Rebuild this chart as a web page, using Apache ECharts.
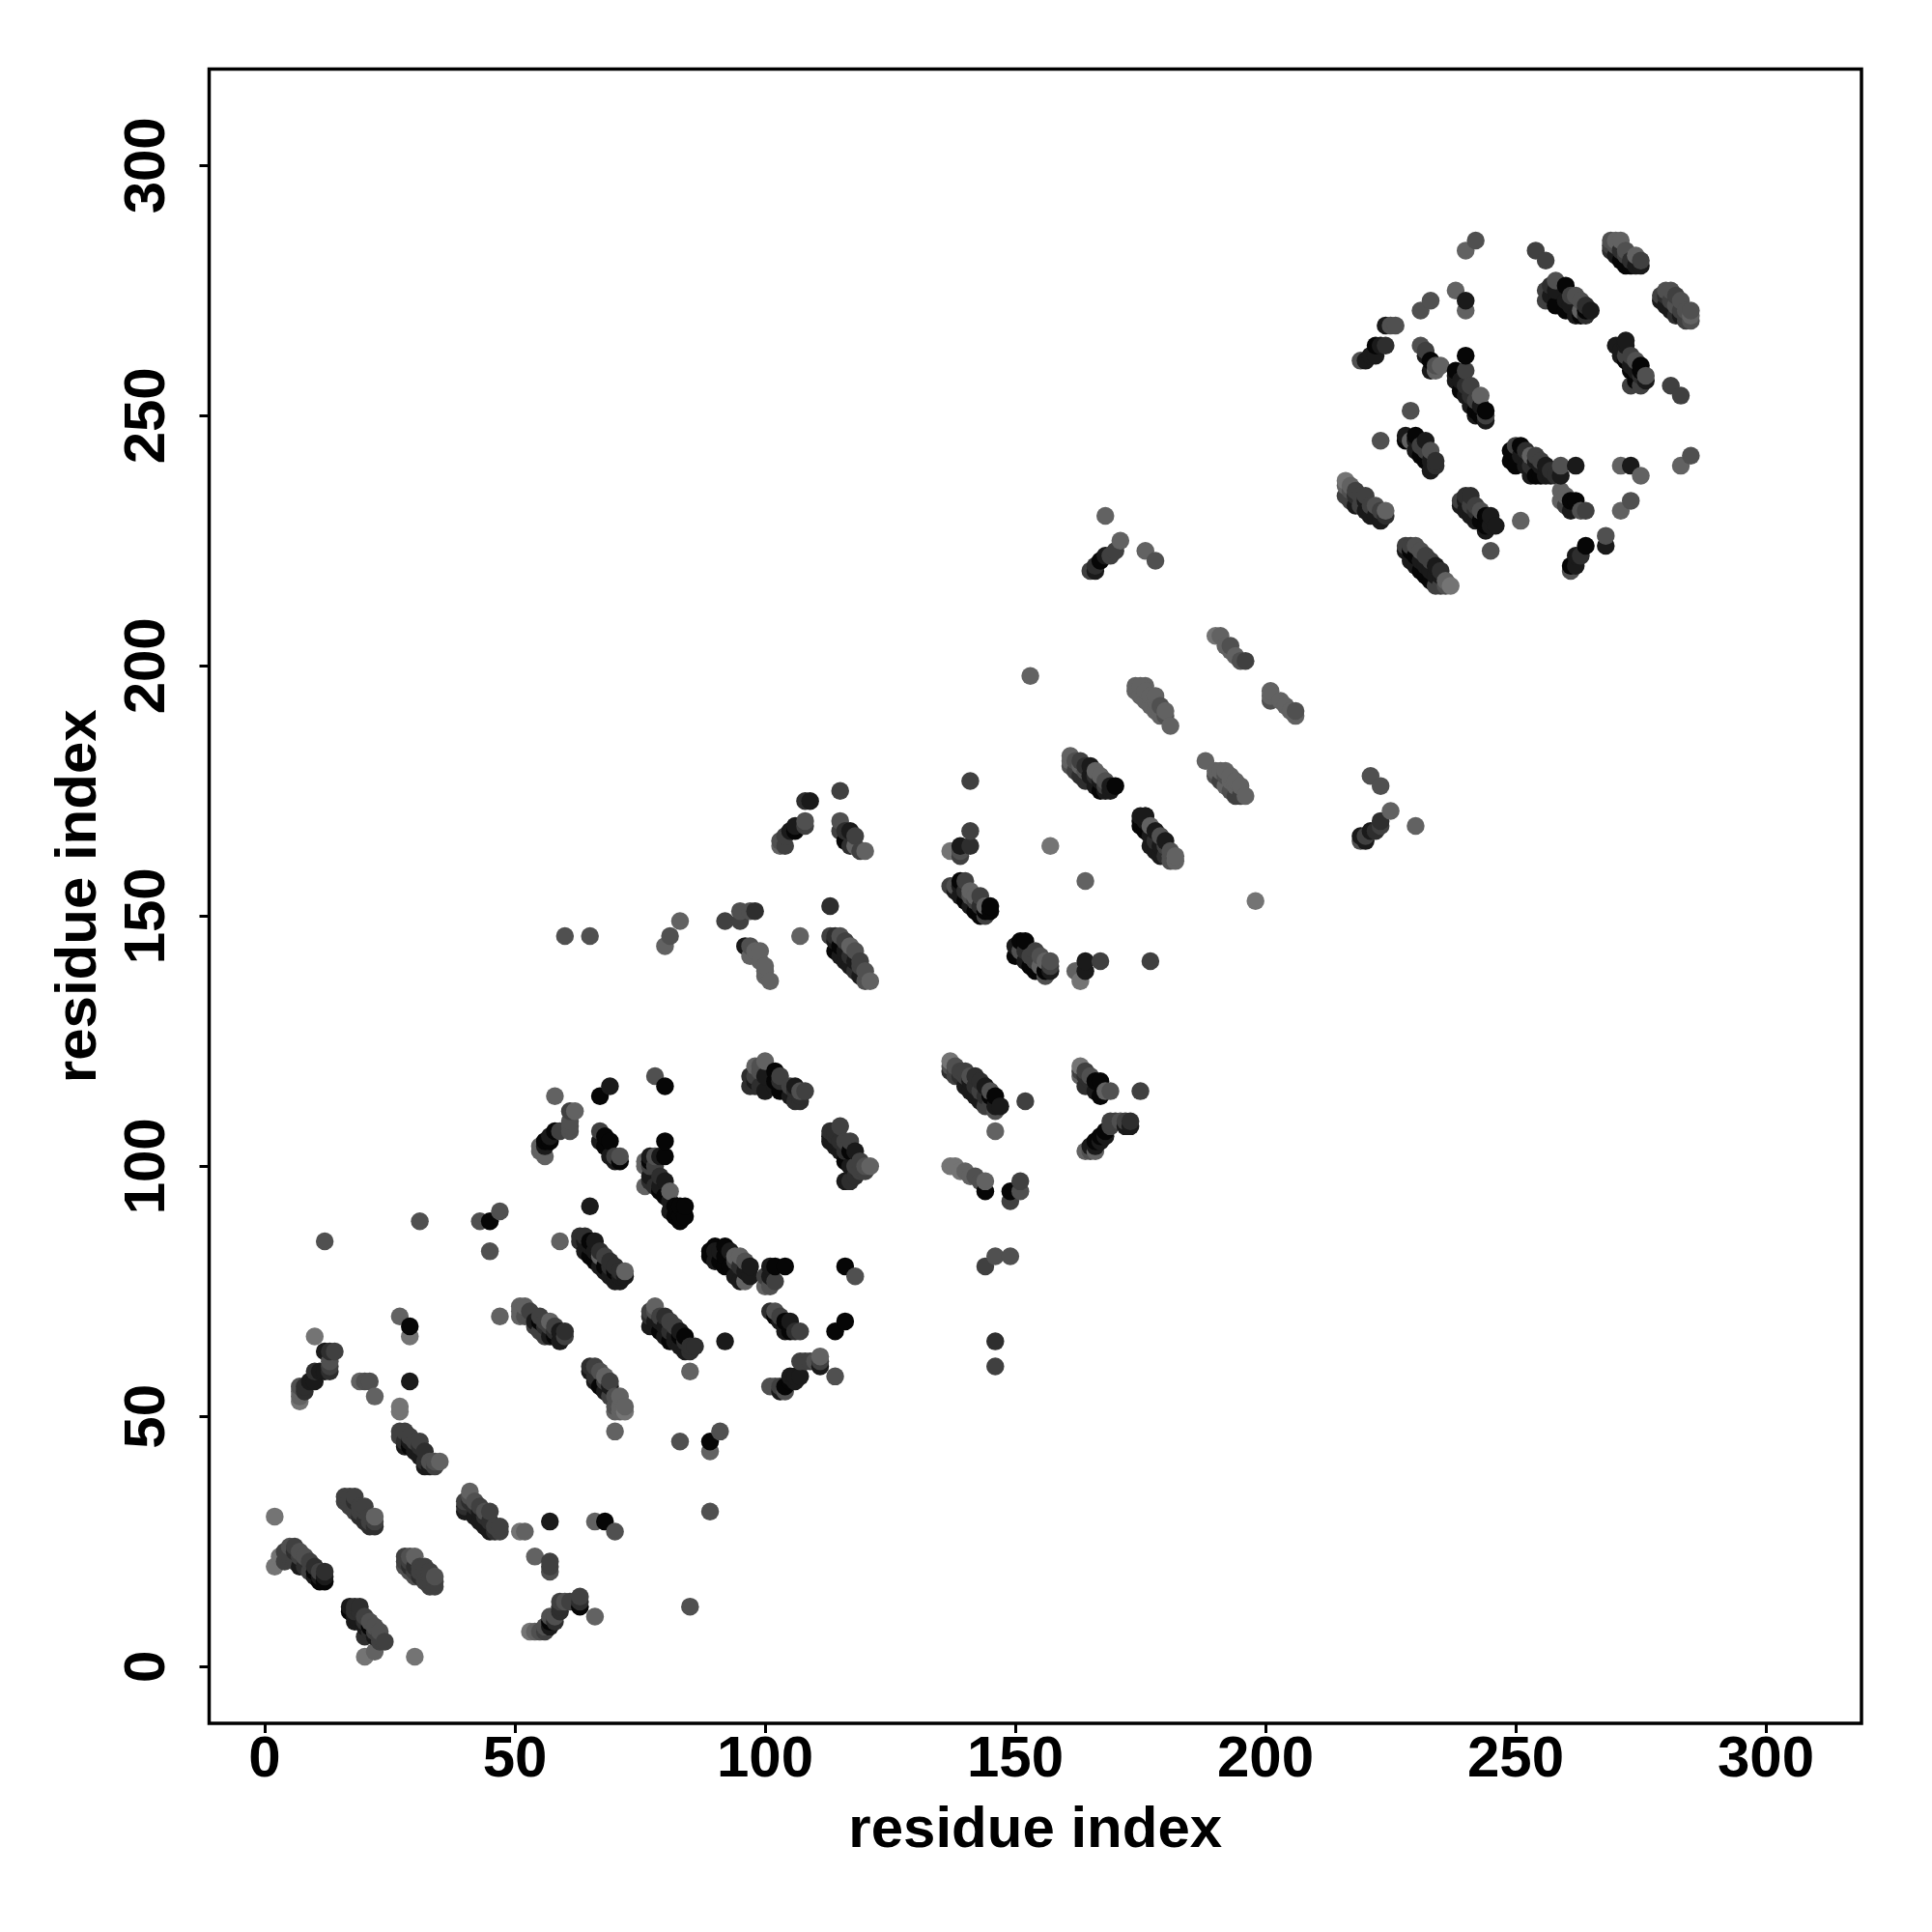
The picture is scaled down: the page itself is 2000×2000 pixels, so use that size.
<!DOCTYPE html>
<html><head><meta charset="utf-8">
<script src="https://cdn.jsdelivr.net/npm/echarts@6/dist/echarts.min.js"></script>
<style>html,body{margin:0;padding:0;background:#fff}#c{width:2000px;height:2000px}</style>
</head><body><div id="c"></div>
<script>
// each contact: [residue x, residue y, shade 0 (darkest) .. 6 (lightest)]
const tickValues=[0,50,100,150,200,250,300];
const shadeGreys=[6,26,46,64,80,98,116];
const axisName='residue index';
const block1=[[2,20,6],[2,30,6],[3,22,6],[4,21,3],[4,23,3],[5,22,3],[5,24,4],[6,21,3],[6,23,2],[6,24,3],[7,20,1],[7,22,3],[7,23,4],[7,53,6],[7,54,5],[7,55,5],[7,56,4],[8,20,2],[8,22,4],[8,55,2],[8,56,2],[9,19,3],[9,21,3],[9,57,1],[10,18,1],[10,19,0],[10,20,2],[10,57,1],[10,59,2],[10,66,6],[11,17,0],[11,18,1],[11,19,3],[11,59,1],[12,17,0],[12,18,1],[12,19,2],[12,59,1],[12,63,1],[12,85,4],[13,59,2],[13,60,3],[13,61,4],[13,63,2],[14,63,3]];
const block2=[[16,33,3],[16,34,3],[17,11,0],[17,12,1],[17,32,3],[17,33,3],[17,34,3],[18,9,1],[18,10,1],[18,11,2],[18,12,2],[18,31,3],[18,32,3],[18,33,2],[18,34,3],[19,11,2],[19,12,2],[19,30,2],[19,31,3],[19,32,3],[19,57,5],[20,2,6],[20,6,2],[20,8,1],[20,9,2],[20,10,3],[20,29,2],[20,31,3],[20,32,3],[20,57,4],[21,7,2],[21,8,0],[21,9,4],[21,28,2],[21,29,3],[21,30,3],[21,57,4],[22,3,5],[22,6,1],[22,7,3],[22,8,4],[22,28,2],[22,29,3],[22,30,5],[22,54,5],[23,5,3],[23,6,3],[23,7,4],[24,5,3]];
const block3=[[27,46,3],[27,47,3],[27,51,6],[27,52,6],[27,70,5],[28,20,4],[28,21,3],[28,22,3],[28,44,1],[28,45,2],[28,47,3],[29,19,4],[29,20,2],[29,21,3],[29,22,4],[29,44,0],[29,45,1],[29,46,3],[29,57,1],[29,66,6],[29,68,0],[30,2,6],[30,18,4],[30,19,3],[30,20,2],[30,22,5],[30,43,1],[30,45,3],[31,18,2],[31,19,3],[31,20,3],[31,42,1],[31,44,2],[31,45,3],[31,89,4],[32,17,3],[32,19,3],[32,20,3],[32,40,1],[32,41,2],[32,43,2],[33,16,3],[33,17,3],[33,18,3],[33,19,3],[33,40,1],[33,41,4],[34,16,3],[34,17,3],[34,18,4],[34,40,3],[34,41,4],[35,41,5]];
const block4=[[40,31,1],[40,32,2],[40,33,3],[41,33,2],[41,34,4],[41,35,5],[42,30,1],[42,32,2],[42,33,4],[43,29,1],[43,31,1],[43,32,3],[43,89,4],[44,28,1],[44,30,2],[44,31,4],[45,27,1],[45,29,2],[45,31,3],[45,83,4],[45,89,0],[46,27,2],[46,28,3],[47,27,3],[47,28,3],[47,70,5],[47,91,4],[51,27,6],[51,70,5],[51,71,5],[51,72,5],[52,27,5],[52,70,4],[52,72,5],[53,7,6],[53,70,4],[53,71,3],[54,7,5],[54,22,5],[54,68,3],[54,69,1],[55,7,4],[55,67,3],[55,69,0],[55,70,3],[55,103,5],[55,104,5],[56,7,3],[56,8,4],[56,66,3],[56,68,2],[56,69,3],[56,102,5],[56,104,1],[56,105,0],[57,8,1],[57,9,0],[57,10,4],[57,19,4],[57,20,3],[57,21,3],[57,29,1],[57,66,1],[57,68,3],[57,69,5],[57,105,0],[57,106,1],[58,9,2],[58,10,4],[58,66,0],[58,67,2],[58,68,3],[58,107,0],[58,114,5],[59,11,2],[59,12,2],[59,13,3],[59,65,1],[59,67,1],[59,85,5],[59,107,3],[60,13,4],[60,66,3],[60,67,2],[60,146,4],[61,13,3],[61,107,4],[61,108,4],[61,109,4],[61,111,3],[62,111,5],[63,12,0],[63,13,2],[63,14,3],[63,85,2],[63,86,2]];
const block5=[[64,83,1],[64,85,1],[64,86,2],[65,59,1],[65,60,2],[65,82,0],[65,84,1],[65,85,0],[65,92,1],[65,146,4],[66,10,5],[66,29,5],[66,57,1],[66,58,2],[66,60,3],[66,81,0],[66,83,1],[66,85,1],[67,56,0],[67,59,4],[67,80,1],[67,82,5],[67,83,2],[67,105,1],[67,107,3],[67,114,0],[68,29,0],[68,55,1],[68,57,3],[68,58,5],[68,79,1],[68,80,0],[68,82,3],[68,104,0],[68,106,0],[69,54,3],[69,56,1],[69,57,3],[69,78,1],[69,80,2],[69,81,2],[69,102,1],[69,105,0],[69,116,1],[70,27,4],[70,47,5],[70,51,5],[70,52,4],[70,54,4],[70,77,1],[70,79,0],[70,80,2],[70,101,1],[70,102,3],[71,51,5],[71,52,5],[71,54,5],[71,77,1],[71,78,1],[71,79,2],[71,101,0],[71,102,4],[72,51,6],[72,52,5],[72,78,1],[72,79,5]];
const block6=[[76,96,5],[76,100,5],[76,101,5],[77,68,1],[77,70,2],[77,71,3],[77,97,2],[77,98,1],[77,100,3],[77,101,0],[77,102,1],[78,69,1],[78,71,4],[78,72,5],[78,96,2],[78,100,3],[78,102,4],[78,118,4],[79,67,0],[79,69,1],[79,70,3],[79,95,0],[79,96,1],[79,98,2],[79,102,1],[80,66,1],[80,68,1],[80,70,2],[80,94,0],[80,97,1],[80,102,0],[80,105,0],[80,116,0],[81,65,0],[81,67,2],[81,69,3],[81,91,1],[81,93,1],[81,95,5],[82,65,1],[82,66,1],[82,68,3],[82,90,0],[82,92,0],[83,64,1],[83,66,0],[83,67,1],[83,45,4],[83,89,0],[83,90,0],[83,92,0],[84,63,1],[84,65,2],[84,66,0],[84,90,0],[84,92,0],[85,12,4],[85,59,5],[85,63,2],[85,64,2],[86,64,2]];
const block7=[[89,31,4],[89,43,5],[89,45,0],[89,82,0],[89,83,0],[90,81,1],[90,84,0],[90,83,1],[91,47,4],[91,81,0],[91,83,1],[92,65,1],[92,80,0],[92,82,0],[92,84,0],[93,80,0],[93,83,1],[94,78,1],[94,81,3],[94,82,5],[95,77,1],[95,80,2],[95,82,5],[96,77,5],[96,79,1],[96,81,4],[97,78,1],[97,80,1],[97,116,2],[97,118,2],[98,116,2],[98,117,1],[98,118,3],[98,120,5],[99,116,2],[99,119,4],[99,120,4],[100,76,5],[100,78,3],[100,115,1],[100,118,1],[100,121,5],[101,56,4],[101,71,2],[101,76,4],[101,78,1],[101,80,1],[102,56,4],[102,70,0],[102,71,4],[102,77,3],[102,80,0],[102,116,1],[102,117,0],[102,119,0],[103,55,1],[103,56,3],[103,69,1],[103,70,3],[103,115,0],[103,117,2],[103,118,3],[103,164,5],[103,165,4],[104,55,4],[104,56,0],[104,67,1],[104,69,0],[104,80,0],[104,164,3],[104,166,3],[105,57,0],[105,58,1],[105,67,0],[105,69,1],[105,114,1],[105,116,3],[105,167,1],[106,57,1],[106,58,1],[106,67,2],[106,113,2],[106,115,2],[106,116,1],[106,167,0],[106,168,1],[107,58,1],[107,61,3],[107,67,3],[107,113,2],[107,114,2],[107,115,4],[107,146,5],[108,61,3],[108,115,3],[108,168,3],[108,169,4],[108,173,2],[109,61,3],[109,173,1],[110,61,4],[111,60,1],[111,61,3],[111,62,5]];
const block8=[[113,105,1],[113,106,1],[113,107,2],[113,146,3],[113,152,2],[114,58,4],[114,67,0],[114,104,1],[114,106,2],[114,107,2],[114,143,0],[114,145,1],[114,146,2],[115,103,1],[115,105,2],[115,108,3],[115,142,1],[115,144,0],[115,146,4],[115,167,3],[115,169,4],[115,175,3],[116,69,0],[116,80,0],[116,97,1],[116,101,0],[116,103,2],[116,105,3],[116,141,1],[116,143,1],[116,145,3],[116,165,0],[116,167,2],[117,97,2],[117,100,1],[117,103,0],[117,105,3],[117,140,1],[117,142,2],[117,144,5],[117,164,2],[117,167,1],[118,78,4],[118,98,2],[118,100,3],[118,103,1],[118,139,2],[118,141,1],[118,143,4],[118,164,5],[118,166,3],[119,99,3],[119,101,3],[119,138,1],[119,140,3],[119,141,3],[119,163,3],[120,99,3],[120,100,4],[120,137,4],[120,139,4],[120,163,5],[121,100,5],[121,137,5]];
const block9=[[80,144,5],[81,146,4],[83,149,5],[92,149,3],[95,149,3],[95,151,4],[96,144,1],[97,142,5],[97,144,4],[97,151,4],[98,143,5],[98,151,2],[99,141,5],[99,143,5],[100,138,5],[100,139,5],[100,140,5],[101,137,5],[137,100,6],[137,119,2],[137,120,4],[137,121,6],[137,156,3],[137,163,6],[138,100,6],[138,118,3],[138,119,3],[138,120,4],[138,155,1],[138,156,4],[139,99,6],[139,118,2],[139,119,3],[139,154,1],[139,156,1],[139,157,0],[139,162,3],[139,163,4],[139,164,1],[140,99,5],[140,116,1],[140,118,3],[140,119,3],[140,153,0],[140,155,2],[140,157,3],[141,98,5],[141,115,1],[141,117,1],[141,118,4],[141,152,1],[141,154,4],[141,155,5],[141,164,2],[141,167,3],[141,177,3],[142,98,4],[142,114,1],[142,116,2],[142,118,2],[142,151,0],[142,153,3],[142,154,5],[143,113,1],[143,115,3],[143,117,2],[143,97,4],[143,150,0],[143,152,2],[143,154,3],[144,80,3],[144,95,0],[144,97,5],[144,112,3],[144,114,2],[144,116,1],[144,150,3],[144,151,0],[144,152,5],[145,112,3],[145,114,0],[145,115,4],[145,151,0],[145,152,0],[146,60,3],[146,65,2],[146,82,4],[146,107,5],[146,111,4],[146,112,1],[146,114,0],[147,112,1],[149,82,4],[149,93,3],[149,95,0],[150,142,0],[150,144,1],[151,95,4],[151,97,3],[151,143,4],[151,145,0],[152,113,3],[152,141,1],[152,143,2],[152,145,0],[153,140,0],[153,142,3],[153,198,5],[154,139,0],[154,141,3],[154,143,3],[155,140,5],[155,142,4],[156,138,4],[156,139,0],[156,141,5],[157,139,1],[157,140,3],[157,141,4],[157,164,6]];
const block10=[[161,180,4],[161,181,5],[161,182,5],[162,139,5],[162,179,3],[162,181,4],[163,137,6],[163,118,5],[163,119,3],[163,120,6],[163,178,2],[163,180,5],[163,181,3],[164,139,1],[164,141,1],[164,103,5],[164,116,2],[164,118,2],[164,119,3],[164,157,5],[164,177,2],[164,179,4],[164,180,2],[165,103,4],[165,104,1],[165,117,2],[165,118,4],[165,178,1],[165,180,1],[165,219,3],[166,103,5],[166,104,1],[166,105,0],[166,115,1],[166,117,0],[166,176,1],[166,178,2],[166,179,5],[166,219,1],[166,220,2],[167,105,1],[167,106,0],[167,114,0],[167,117,0],[167,141,3],[167,175,0],[167,177,1],[167,178,5],[167,221,0],[168,106,1],[168,107,0],[168,115,5],[168,175,1],[168,176,3],[168,177,4],[168,222,1],[168,230,5],[169,108,3],[169,109,3],[169,115,4],[169,175,1],[169,176,1],[169,222,3],[170,109,3],[170,176,0],[170,223,3],[171,109,4],[171,225,5],[172,108,1],[172,109,3],[173,108,1],[173,109,2],[175,115,3],[176,170,1],[176,196,5],[176,223,5],[177,141,3],[178,221,4]];
const block11=[[174,195,5],[174,196,5],[175,168,0],[175,169,0],[175,170,1],[175,194,5],[175,196,5],[176,167,0],[176,169,1],[176,170,1],[176,193,5],[176,195,5],[177,164,1],[177,166,1],[177,168,5],[177,192,5],[177,194,5],[178,163,1],[178,165,2],[178,167,1],[178,191,5],[178,193,5],[178,194,5],[179,162,1],[179,164,1],[179,166,4],[179,190,5],[179,192,4],[180,162,2],[180,164,3],[180,165,1],[180,190,4],[180,191,5],[181,161,4],[181,162,4],[181,163,4],[181,188,5],[182,161,5],[182,162,5],[188,181,5],[190,178,4],[190,179,5],[190,206,6],[191,177,3],[191,179,5],[191,206,5],[192,176,5],[192,178,4],[192,179,5],[192,204,5],[193,175,4],[193,177,5],[193,178,5],[193,203,5],[193,204,4],[194,174,3],[194,176,5],[194,177,5],[194,202,5],[195,174,3],[195,176,5],[195,201,4],[196,174,5],[196,201,3],[198,153,6],[201,193,4],[201,194,5],[201,195,5],[203,193,5],[204,192,5],[205,191,5],[206,190,5],[206,191,4]];
const block12=[[216,234,3],[216,236,5],[216,237,6],[217,233,3],[217,235,4],[217,236,5],[218,232,1],[218,234,2],[218,235,3],[219,165,4],[219,166,1],[219,232,3],[219,234,3],[219,261,4],[220,165,1],[220,166,3],[220,231,1],[220,233,1],[220,234,3],[220,261,1],[221,178,4],[221,167,1],[221,230,1],[221,232,3],[221,262,1],[222,167,2],[222,230,1],[222,232,4],[222,262,1],[222,264,0],[223,168,3],[223,169,2],[223,176,4],[223,229,1],[223,231,3],[223,245,4],[223,264,1],[224,230,2],[224,231,5],[224,264,2],[224,268,1],[225,171,5],[225,268,4],[226,268,4],[228,223,1],[228,224,3],[228,245,0],[228,246,1],[229,221,1],[229,223,0],[229,224,3],[229,245,5],[229,251,4],[230,168,5],[230,220,1],[230,222,0],[230,224,4],[230,243,1],[230,245,1],[230,246,0],[231,219,0],[231,221,1],[231,223,4],[231,242,0],[231,244,3],[231,264,4],[231,271,4],[232,218,0],[232,220,1],[232,222,3],[232,241,0],[232,243,3],[232,245,1],[232,262,1],[232,263,3],[233,217,0],[233,219,1],[233,221,3],[233,239,1],[233,241,1],[233,243,4],[233,259,1],[233,261,0],[233,273,4],[234,216,3],[234,218,1],[234,220,1],[234,240,2],[234,241,2],[234,259,5],[234,260,4],[235,216,3],[235,218,1],[235,219,2],[235,260,5],[236,216,4],[236,217,5],[237,216,6]];
const block13=[[238,257,1],[238,258,1],[238,259,0],[238,275,5],[239,232,1],[239,233,3],[239,255,0],[239,257,1],[240,231,1],[240,233,1],[240,234,2],[240,254,1],[240,256,2],[240,259,3],[240,262,0],[240,271,5],[240,273,1],[240,283,5],[241,230,1],[241,232,3],[241,234,2],[241,252,1],[241,254,2],[241,256,3],[242,229,1],[242,231,2],[242,232,3],[242,250,1],[242,251,0],[242,253,3],[242,285,4],[243,229,0],[243,231,4],[243,250,0],[243,252,1],[243,254,5],[244,227,1],[244,228,0],[244,230,0],[244,249,1],[244,250,3],[244,251,0],[245,223,4],[245,228,1],[245,230,1],[246,228,1],[249,241,0],[249,243,0],[250,240,0],[250,244,3],[251,229,5],[251,242,1],[251,244,0],[252,240,1],[252,243,2],[253,238,1],[253,240,2],[253,242,5],[254,238,0],[254,241,1],[254,242,3],[254,283,3],[255,238,0],[255,240,1],[255,241,3],[256,238,1],[256,240,1],[256,273,3],[256,275,3],[256,281,3],[257,238,1],[257,239,2],[257,274,1],[257,276,2],[258,238,2],[258,272,0],[258,275,1],[258,277,4],[259,233,5],[259,235,5],[259,238,1],[259,240,4],[260,232,3],[260,234,5],[260,271,0],[260,273,1],[260,276,0],[261,219,4],[261,220,0],[261,231,1],[261,233,0],[261,272,1],[261,274,3],[262,220,1],[262,222,1],[262,233,0],[262,240,1],[262,270,1],[262,274,4],[263,222,2],[263,231,4],[263,270,0],[263,271,5],[263,273,4],[264,224,0],[264,231,3],[264,270,2],[264,271,0],[264,272,2],[265,271,1]];
const block14=[[268,224,1],[268,226,4],[269,283,2],[269,284,3],[269,285,4],[270,264,1],[270,282,1],[270,284,4],[270,285,5],[271,231,5],[271,240,5],[271,262,1],[271,263,1],[271,281,0],[271,283,2],[271,285,5],[272,261,0],[272,262,3],[272,264,1],[272,265,1],[272,280,0],[272,282,3],[272,283,4],[273,233,4],[273,240,1],[273,256,3],[273,259,0],[273,260,1],[273,262,3],[273,280,0],[273,281,2],[274,257,0],[274,259,1],[274,261,4],[274,280,1],[274,282,5],[275,238,5],[275,256,3],[275,258,2],[275,259,0],[275,260,0],[275,280,1],[275,281,3],[276,257,1],[276,258,4],[279,273,1],[279,274,3],[280,272,1],[280,274,2],[280,275,4],[281,256,3],[281,271,1],[281,273,3],[281,275,4],[282,270,2],[282,272,4],[282,274,3],[283,240,5],[283,254,3],[283,270,1],[283,271,3],[283,273,4],[284,269,3],[284,270,3],[284,271,4],[285,242,4],[285,269,4],[285,270,5],[285,271,4]];

const contacts=[].concat(block1,block2,block3,block4,block5,block6,block7,block8,block9,block10,block11,block12,block13,block14);
const points=contacts.map(c=>{const g=shadeGreys[c[2]];return {value:[c[0],c[1]],itemStyle:{color:'rgb('+g+','+g+','+g+')'}};});
const font='"Liberation Sans",Arial,sans-serif';
function axis(extra){return Object.assign({
  type:'value',name:axisName,nameLocation:'middle',
  nameTextStyle:{fontFamily:font,fontWeight:'bold',fontSize:60,color:'#000'},
  splitLine:{show:false},
  axisLine:{show:false,onZero:false},
  axisTick:{show:true,length:10,inside:false,lineStyle:{color:'#000',width:3},customValues:tickValues},
  axisLabel:{show:true,fontFamily:font,fontWeight:'bold',fontSize:60,color:'#000',customValues:tickValues,hideOverlap:false,showMinLabel:true,showMaxLabel:true}
},extra);}
const xA=axis({min:-11.1,max:319.1,nameGap:81});
xA.axisLabel.margin=8;
const yA=axis({min:-11.33,max:319.27,nameGap:104});
yA.axisLabel.margin=33;yA.axisLabel.rotate=90;
const chart=echarts.init(document.getElementById('c'),null,{renderer:'canvas',width:2000,height:2000});
chart.setOption({
  animation:false,backgroundColor:'#fff',
  grid:{left:216.5,top:71.5,width:1710.5,height:1712.5,show:true,borderColor:'#000',borderWidth:3.5,backgroundColor:'transparent',containLabel:false},
  xAxis:xA,yAxis:yA,
  series:[{type:'scatter',data:points,symbol:'circle',symbolSize:18.5,large:false,itemStyle:{opacity:1,borderWidth:0},clip:true,z:3,emphasis:{disabled:true}}]
});
</script></body></html>
